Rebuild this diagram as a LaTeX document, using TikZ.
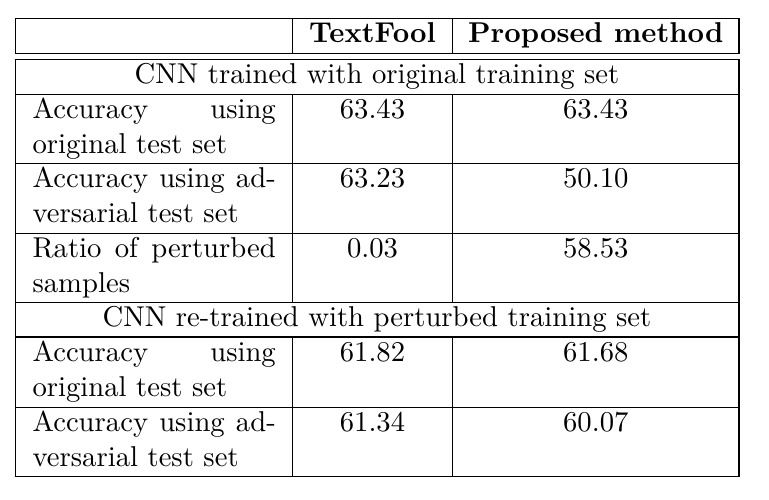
\documentclass[tikz,border=0pt]{standalone}
\usepackage{amsmath}
\usepackage{fontspec}
\usepackage{tikz}
\usetikzlibrary{positioning,calc}
\begin{document}
\begin{tikzpicture}[x=0.34247pt,y=0.34247pt]
\tikzstyle{every node}+=[inner sep=0pt, font=\fontsize{9.82pt}{12pt}\selectfont]
\tikzstyle{lefttext}=[anchor=base west, text width=83.3pt, align=left]
\tikzstyle{numtext}=[anchor=base]
\useasboundingbox (0,0) rectangle (769,-500);
% header box
\draw [black] (15.5,-18.5) rectangle (739,-53.3);
\draw [black] (292.5,-18.5) -- (292.5,-53.3);
\draw [black] (452.5,-18.5) -- (452.5,-53.3);
\node (hfool) [numtext] at (372.5,-43) {\bfseries TextFool};
\node (hprop) [numtext] at (595.8,-43) {\bfseries Proposed method};
% main box
\draw [black] (15.5,-59.5) rectangle (739,-476.3);
\draw [black] (15.5,-94.5) -- (739,-94.5);
\draw [black] (15.5,-163.3) -- (739,-163.3);
\draw [black] (15.5,-233.3) -- (739,-233.3);
\draw [black] (15.5,-302.5) -- (739,-302.5);
\draw [black] (15.5,-337) -- (739,-337);
\draw [black] (15.5,-407.3) -- (739,-407.3);
\draw [black] (292.5,-94.5) -- (292.5,-302.5);
\draw [black] (452.5,-94.5) -- (452.5,-302.5);
\draw [black] (292.5,-337) -- (292.5,-476.3);
\draw [black] (452.5,-337) -- (452.5,-476.3);
% first part
\node (cnna) [numtext] at (377,-84) {CNN trained with original training set};
\node (r1l) [lefttext] at (32,-118.8) {Accuracy\hfill using\\original test set};
\node (r1a) [numtext] at (372.5,-118.8) {63.43};
\node (r1b) [numtext] at (595.8,-118.8) {63.43};
\node (r2l) [lefttext] at (32,-187.5) {Accuracy\hfill using\hfill ad-\\versarial test set};
\node (r2a) [numtext] at (372.5,-187.5) {63.23};
\node (r2b) [numtext] at (595.8,-187.5) {50.10};
\node (r3l) [lefttext] at (32,-257.5) {Ratio\hfill of\hfill perturbed\\samples};
\node (r3a) [numtext] at (372.5,-257.5) {0.03};
\node (r3b) [numtext] at (595.8,-257.5) {58.53};
% second part
\node (cnnb) [numtext] at (377,-327) {CNN re-trained with perturbed training set};
\node (r4l) [lefttext] at (32,-361.5) {Accuracy\hfill using\\original test set};
\node (r4a) [numtext] at (372.5,-361.5) {61.82};
\node (r4b) [numtext] at (595.8,-361.5) {61.68};
\node (r5l) [lefttext] at (32,-431.5) {Accuracy\hfill using\hfill ad-\\versarial test set};
\node (r5a) [numtext] at (372.5,-431.5) {61.34};
\node (r5b) [numtext] at (595.8,-431.5) {60.07};
\end{tikzpicture}
\end{document}
